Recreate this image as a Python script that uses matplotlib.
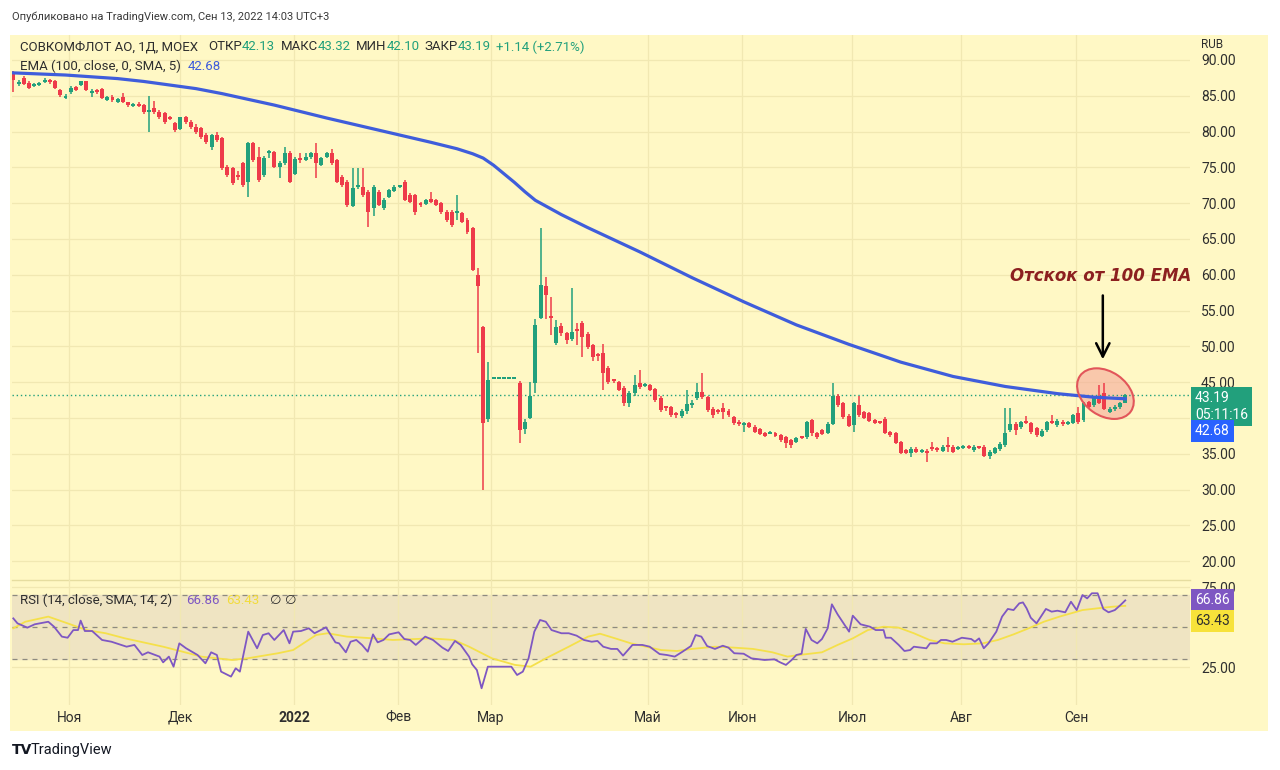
import matplotlib.pyplot as plt
import matplotlib.transforms as mtransforms
from matplotlib.patches import Ellipse, Rectangle
from matplotlib.ticker import FuncFormatter
import numpy as np

plt.rcParams['font.family'] = ['Roboto', 'DejaVu Sans']

# Daily candles, СОВКОМФЛОТ (MOEX), late Oct 2021 .. 13 Sep 2022
opens = [88.3, 86.6, 87.5, 86.8, 86.3, 86.5, 86.9, 87.0, 87.0, 85.8,
         84.7, 85.5, 86.2, 86.5, 87.0, 85.4, 85.7, 86.0, 84.4, 84.9,
         84.1, 84.8, 84.1, 83.6, 83.9, 83.7, 82.8, 83.3, 82.7, 82.6,
         82.1, 81.2, 80.4, 82.0, 81.3, 80.6, 80.5, 79.5, 77.9, 79.5,
         79.1, 75.1, 74.9, 73.8, 75.6, 73.0, 78.4, 76.5, 73.9, 77.0,
         77.2, 75.1, 75.6, 77.0, 74.1, 76.3, 76.1, 76.4, 77.0, 75.4,
         76.4, 77.0, 76.0, 73.7, 73.0, 69.6, 72.2, 72.3, 71.6, 69.3,
         71.6, 69.3, 70.9, 71.7, 72.3, 73.0, 71.2, 71.1, 69.9, 69.9,
         70.6, 70.4, 70.0, 68.8, 68.8, 68.6, 68.6, 67.6, 66.5, 60.0,
         52.7, 39.9, 45.45, 45.45, 45.45, 45.45, 45.45, 44.9, 38.5, 40.0,
         44.9, 54.0, 58.4, 54.2, 50.5, 52.8, 51.8, 51.0, 52.4, 53.3,
         51.7, 50.2, 48.9, 49.1, 47.0, 45.3, 45.0, 44.2, 42.1, 43.5,
         44.9, 44.5, 44.6, 44.0, 42.8, 41.5, 41.5, 40.7, 40.3, 41.0,
         41.8, 42.8, 43.6, 42.9, 41.3, 41.0, 41.4, 41.0, 40.1, 39.5,
         39.0, 39.3, 38.8, 38.4, 37.9, 37.8, 37.9, 37.6, 37.3, 36.9,
         36.7, 37.4, 37.3, 39.7, 37.9, 38.3, 37.9, 39.2, 43.1, 42.1,
         40.3, 39.0, 41.8, 40.8, 40.7, 39.7, 39.4, 39.9, 38.0, 37.9,
         36.6, 35.5, 35.1, 35.7, 35.3, 35.4, 35.8, 35.8, 35.4, 36.1,
         36.0, 35.7, 35.8, 36.0, 35.5, 36.0, 36.0, 34.7, 35.1, 35.6,
         36.2, 38.3, 39.2, 38.7, 39.5, 39.3, 38.6, 37.5, 38.3, 39.5,
         39.0, 39.5, 39.2, 39.3, 40.7, 39.7, 42.2, 41.8, 42.9, 43.5,
         40.9, 41.2, 41.5, 42.13]
highs = [88.5, 87.2, 87.7, 87.0, 86.8, 86.9, 87.5, 87.3, 87.2, 86.0,
         85.3, 86.3, 86.4, 87.1, 87.1, 86.0, 86.0, 86.1, 85.0, 85.1,
         84.7, 85.4, 84.2, 84.0, 84.2, 83.9, 85.0, 84.3, 83.0, 82.8,
         82.2, 81.4, 82.1, 82.2, 81.6, 81.0, 80.7, 79.8, 79.7, 80.0,
         79.3, 75.3, 75.0, 74.5, 75.8, 78.6, 78.6, 77.9, 76.6, 77.4,
         77.3, 75.9, 77.9, 77.3, 76.4, 77.0, 77.0, 77.1, 78.4, 76.5,
         77.2, 77.5, 76.2, 73.9, 73.2, 74.9, 74.9, 74.9, 71.8, 72.6,
         71.8, 70.7, 72.0, 72.5, 72.6, 73.3, 71.4, 71.3, 70.2, 70.6,
         71.5, 70.6, 70.2, 69.0, 69.1, 71.1, 68.8, 68.0, 66.7, 61.0,
         52.9, 47.8, 45.45, 45.45, 45.45, 45.45, 45.45, 45.2, 39.9, 45.0,
         53.8, 66.5, 59.7, 56.9, 53.7, 53.3, 52.0, 58.2, 53.3, 53.6,
         52.0, 50.4, 49.1, 50.3, 47.2, 45.5, 45.2, 44.4, 43.8, 46.0,
         46.7, 44.9, 44.8, 44.2, 43.0, 41.7, 41.7, 40.9, 41.2, 43.9,
         42.5, 44.9, 46.3, 43.1, 41.5, 41.2, 42.1, 41.2, 40.3, 39.7,
         39.4, 39.5, 39.0, 38.6, 38.1, 38.2, 38.1, 37.8, 37.5, 37.0,
         37.4, 37.5, 39.6, 39.9, 38.1, 38.5, 39.4, 44.9, 43.3, 42.3,
         40.5, 42.3, 43.1, 41.0, 40.9, 39.9, 39.6, 40.1, 38.2, 38.1,
         36.8, 35.7, 35.9, 35.9, 35.7, 35.6, 36.6, 36.0, 36.2, 37.4,
         36.2, 36.1, 36.2, 36.2, 36.2, 36.1, 36.2, 35.5, 36.0, 36.6,
         41.4, 41.4, 39.4, 39.6, 40.3, 39.5, 38.8, 38.4, 39.6, 40.4,
         39.8, 39.7, 39.6, 40.6, 41.5, 42.3, 42.4, 43.0, 44.6, 44.9,
         41.5, 41.8, 42.3, 43.32]
lows = [85.5, 86.4, 86.5, 85.9, 86.2, 86.4, 86.8, 86.7, 85.9, 84.9,
        84.5, 85.3, 85.6, 86.4, 85.6, 84.9, 85.2, 84.6, 84.3, 84.2,
        84.0, 84.0, 83.5, 83.4, 83.4, 82.5, 79.9, 82.5, 81.8, 81.1,
        81.6, 80.0, 80.2, 81.0, 80.4, 79.7, 79.0, 78.2, 77.4, 78.6,
        74.7, 73.6, 72.5, 73.2, 72.3, 70.9, 75.8, 73.0, 73.7, 76.3,
        74.9, 73.5, 75.4, 72.8, 73.9, 75.6, 75.9, 76.2, 73.5, 75.2,
        76.3, 75.4, 72.8, 72.3, 69.5, 69.4, 72.0, 70.9, 66.7, 68.2,
        69.6, 69.1, 70.7, 71.5, 72.1, 70.3, 70.0, 68.4, 69.4, 69.7,
        70.0, 69.6, 68.5, 67.4, 66.7, 67.6, 67.2, 65.7, 60.5, 49.1,
        30.0, 39.5, 45.45, 45.45, 45.45, 45.45, 45.45, 36.5, 37.8, 39.8,
        43.5, 53.8, 53.8, 51.6, 50.2, 51.5, 50.4, 50.7, 50.2, 48.5,
        49.7, 48.0, 48.0, 43.9, 44.8, 44.9, 43.7, 41.7, 41.6, 43.1,
        44.0, 44.3, 43.7, 42.3, 40.9, 41.0, 40.2, 40.0, 40.0, 40.6,
        41.4, 42.5, 42.7, 40.9, 40.0, 40.5, 39.8, 40.2, 39.0, 38.9,
        38.1, 38.6, 37.9, 37.6, 37.3, 37.7, 37.3, 36.7, 35.8, 35.8,
        36.5, 37.0, 37.1, 37.5, 37.1, 37.6, 37.7, 39.0, 41.5, 39.9,
        38.7, 38.0, 40.2, 39.8, 39.4, 39.1, 39.1, 37.7, 37.4, 36.3,
        34.9, 34.9, 34.6, 35.1, 35.1, 33.9, 35.4, 35.3, 35.2, 35.3,
        35.1, 35.5, 35.6, 35.6, 35.3, 35.6, 34.5, 34.3, 34.9, 35.4,
        36.0, 38.1, 37.6, 38.5, 39.1, 37.8, 37.4, 37.3, 38.1, 39.1,
        38.8, 38.9, 39.0, 39.1, 39.2, 39.5, 41.3, 41.6, 41.9, 41.1,
        40.7, 41.0, 41.3, 42.10]
closes = [87.2, 86.9, 86.7, 86.1, 86.6, 86.8, 87.1, 86.9, 86.1, 85.1,
          84.9, 86.1, 85.8, 87.0, 85.8, 85.6, 85.5, 84.7, 84.8, 84.4,
          84.6, 84.1, 83.7, 83.8, 83.6, 82.7, 82.9, 82.7, 82.0, 81.3,
          81.8, 80.2, 82.0, 81.3, 80.6, 79.9, 79.2, 78.5, 79.5, 78.8,
          74.9, 73.9, 72.8, 73.6, 72.5, 78.4, 76.0, 73.2, 76.3, 77.2,
          75.1, 75.6, 77.0, 73.0, 76.2, 76.1, 76.5, 77.0, 75.6, 76.3,
          77.0, 75.6, 73.0, 72.5, 69.8, 72.1, 72.3, 71.1, 68.8, 72.3,
          69.8, 70.5, 71.8, 72.3, 72.5, 70.5, 70.2, 68.8, 69.7, 70.4,
          70.2, 69.8, 68.8, 67.7, 67.0, 68.7, 67.4, 66.0, 60.7, 58.4,
          39.3, 45.3, 45.45, 45.45, 45.45, 45.45, 45.45, 38.3, 39.4, 43.1,
          53.0, 58.6, 57.2, 54.0, 52.7, 51.8, 50.9, 52.0, 52.1, 51.3,
          49.9, 48.5, 48.6, 46.3, 45.0, 45.1, 43.9, 42.1, 43.5, 44.6,
          44.3, 44.7, 43.9, 42.5, 41.1, 41.4, 40.4, 40.4, 41.0, 42.0,
          42.1, 43.6, 42.9, 41.1, 40.4, 40.8, 40.9, 40.4, 39.3, 39.1,
          39.2, 38.8, 38.1, 37.8, 37.5, 37.9, 37.5, 36.9, 36.5, 36.2,
          37.2, 37.2, 39.4, 37.9, 37.3, 37.8, 39.2, 43.1, 41.8, 40.1,
          38.9, 42.1, 40.4, 40.0, 39.6, 39.3, 39.3, 37.9, 37.6, 36.5,
          35.1, 35.1, 35.7, 35.3, 35.5, 35.1, 35.6, 35.5, 36.0, 35.9,
          35.3, 35.9, 36.0, 35.8, 36.0, 35.8, 34.7, 35.3, 35.8, 36.4,
          37.9, 39.2, 38.3, 39.4, 39.3, 38.0, 37.6, 38.2, 39.4, 39.3,
          39.6, 39.1, 39.4, 40.4, 39.4, 42.1, 41.5, 42.8, 42.1, 41.3,
          41.3, 41.6, 42.1, 43.19]

# EMA(100) read at bar positions
ema_idx = [0, 10, 20, 25, 30, 35, 40, 45, 50, 60, 70, 80, 85, 88, 90, 92, 94, 96, 98, 100,
           105, 110, 115, 120, 130, 140, 150, 160, 170, 180, 190, 200, 207, 213]
ema_vals = [88.2, 87.9, 87.4, 87.0, 86.5, 86.0, 85.3, 84.5, 83.7, 81.9, 80.2, 78.5, 77.6,
            76.9, 76.3, 75.3, 74.1, 72.9, 71.6, 70.4, 68.4, 66.6, 64.9, 63.2, 59.6, 56.2,
            53.0, 50.3, 47.8, 45.8, 44.4, 43.4, 42.9, 42.68]

# RSI(14) and its SMA(14)
rsi_idx = [0, 0.8, 2.7, 4.1, 6.7, 7.8, 9.3, 10.4, 11.5, 12.4, 12.9, 13.7, 15.1, 17.0, 18.8,
           20.3, 21.7, 23.2, 24.7, 25.8, 28.0, 28.7, 29.8, 30.7, 31.8, 33.1, 35.3, 36.8, 37.9,
           39.0, 39.8, 41.7, 42.6, 43.4, 45.0, 46.7, 47.8, 48.9, 50.0, 51.8, 52.9, 53.6, 55.1,
           56.6, 57.7, 59.9, 61.7, 62.4, 63.7, 64.6, 65.7, 66.8, 67.9, 68.9, 69.8, 70.9, 72.0,
           73.8, 74.9, 76.0, 77.1, 78.9, 80.4, 82.2, 83.3, 84.6, 85.7, 87.3, 87.9, 88.8, 89.7,
           90.9, 95.4, 96.5, 97.6, 98.7, 99.8, 100.9, 102.0, 103.1, 105.0, 106.4, 107.9, 109.3,
           110.8, 111.9, 113.0, 114.5, 115.7, 116.8, 118.6, 120.5, 121.9, 123.8, 125.2, 126.7,
           128.2, 129.8, 130.7, 131.8, 132.9, 134.4, 135.9, 137.0, 138.1, 139.9, 141.4, 143.9,
           145.8, 146.9, 148.0, 149.1, 150.0, 151.0, 151.8, 152.9, 154.0, 154.9, 156.0, 156.8,
           157.9, 160.1, 160.8, 162.3, 164.1, 165.2, 166.7, 167.1, 168.1, 169.6, 170.7, 171.8,
           172.5, 174.0, 174.9, 175.6, 176.9, 177.7, 178.7, 179.9, 181.7, 183.5, 184.2, 185.0,
           185.9, 186.8, 188.3, 189.4, 190.5, 191.6, 192.7, 193.4, 194.1, 194.9, 196.0, 197.8,
           198.9, 200.0, 201.5, 202.6, 203.7, 204.8, 205.7, 206.6, 207.7, 208.8, 209.8, 211.0,
           212.1, 213.0]
rsi_vals = [55.6, 52.5, 49.8, 51.9, 53.5, 50.4, 44.2, 43.5, 48.3, 48.3, 54.2, 47.7, 47.7, 42.1,
            41.0, 39.4, 37.9, 39.0, 32.7, 34.4, 31.7, 28.1, 31.7, 25.4, 40.0, 36.9, 32.7, 27.5,
            34.4, 32.7, 22.3, 19.2, 24.4, 22.3, 47.3, 36.9, 45.2, 46.3, 42.1, 48.3, 40.0, 47.3,
            47.7, 49.4, 46.3, 50.0, 40.6, 40.0, 34.4, 41.0, 42.1, 39.0, 34.8, 45.6, 40.6, 42.1,
            45.6, 46.9, 42.7, 42.1, 39.0, 44.2, 42.1, 37.3, 35.2, 41.5, 39.0, 31.7, 26.9, 23.3,
            11.9, 25.4, 25.4, 20.2, 22.3, 30.6, 47.3, 54.6, 53.5, 48.3, 46.3, 46.3, 44.8, 42.1,
            41.0, 41.5, 37.9, 36.5, 36.5, 32.3, 39.0, 39.0, 37.9, 33.3, 32.7, 31.7, 34.8, 38.3,
            45.2, 44.2, 38.3, 36.5, 38.5, 37.3, 33.8, 33.5, 30.6, 29.6, 30.0, 28.1, 26.5, 29.6,
            32.7, 33.5, 49.0, 42.1, 40.0, 42.7, 49.4, 64.4, 58.1, 47.3, 57.3, 51.9, 50.4, 48.3,
            48.3, 43.5, 43.5, 39.0, 35.2, 35.8, 37.9, 37.3, 36.9, 40.0, 40.0, 42.1, 42.1, 41.0,
            43.5, 42.7, 41.0, 43.1, 36.9, 40.0, 47.3, 56.7, 61.5, 60.8, 65.0, 65.6, 61.9, 56.0,
            52.5, 61.5, 59.8, 60.4, 59.4, 66.0, 60.8, 70.2, 68.1, 71.3, 71.3, 61.5, 59.4, 60.8,
            64.0, 66.86]
sig_idx = [0, 2.3, 6.7, 10.4, 14.0, 17.7, 21.4, 28.7, 32.4, 36.0, 41.9, 44.8, 50.7, 53.6, 58.0,
           60.2, 63.9, 69.0, 72.7, 80.0, 84.4, 87.3, 91.7, 96.1, 99.1, 102.0, 106.4, 110.1,
           112.4, 115.3, 118.3, 121.2, 124.1, 127.1, 130.0, 134.4, 138.1, 141.7, 145.4, 148.3,
           150.5, 154.9, 157.9, 160.8, 163.7, 166.7, 169.6, 172.5, 175.5, 178.4, 182.1, 185.7,
           188.6, 191.6, 194.5, 197.4, 200.4, 204.8, 207.7, 210.6, 213.0]
sig_vals = [49.4, 53.5, 56.7, 52.5, 48.3, 46.3, 43.1, 37.9, 34.8, 31.7, 29.6, 30.6, 33.8, 35.8,
            45.2, 46.3, 44.2, 43.1, 42.1, 43.1, 42.1, 37.9, 30.6, 26.5, 25.4, 30.6, 37.9, 44.2,
            46.0, 43.1, 40.0, 37.9, 35.8, 35.2, 36.5, 37.9, 37.3, 36.5, 34.4, 31.7, 32.7, 34.4,
            39.0, 43.1, 48.3, 50.4, 49.8, 46.3, 42.1, 40.0, 39.4, 40.0, 42.1, 45.6, 49.4, 53.5,
            56.7, 60.8, 61.9, 62.9, 63.43]

month_pos = [10.7, 31.9, 53.8, 73.7, 91.5, 121.6, 139.6, 160.7, 181.6, 203.6]
month_lbl = ['Ноя', 'Дек', '2022', 'Фев', 'Мар', 'Май', 'Июн', 'Июл', 'Авг', 'Сен']

BG = '#fff8c5'
GREEN = '#22a07c'
RED = '#ee3b4a'
BLUE = '#3f5ddb'
PURPLE = '#7e57c2'
YELLOW = '#f5e04a'
DARK = '#2e2e2e'
GRID = '#f1e8b2'

W, H = 1280, 770
fig = plt.figure(figsize=(W / 100, H / 100), dpi=100)
fig.patch.set_facecolor('white')
fig.patches.append(Rectangle((10 / W, 39 / H), 1258 / W, 696 / H, transform=fig.transFigure,
                             fc=BG, ec='none', zorder=-5))

ax = fig.add_axes([12 / W, 190 / H, 1178 / W, 545 / H])
ax2 = fig.add_axes([12 / W, 65 / H, 1178 / W, 125 / H], sharex=ax)
for a in (ax, ax2):
    a.set_facecolor('none')
    for s in a.spines.values():
        s.set_visible(False)
    a.yaxis.tick_right()
    a.set_axisbelow(True)

# hidden labels sit under the price boxes on the right scale
price_fmt = FuncFormatter(lambda v, p: '' if abs(v - 40) < 0.01 else '%.2f' % v)
rsi_fmt = FuncFormatter(lambda v, p: '' if abs(v - 50) < 0.01 else '%.2f' % v)

# --- price pane ---
o, h, l, c = map(np.array, (opens, highs, lows, closes))
x = np.arange(len(c))
cols = np.where(c >= o, GREEN, RED)
ax.vlines(x, l, h, colors=cols, lw=1.1, zorder=3)
ax.bar(x, np.maximum(np.abs(c - o), 0.28), bottom=np.minimum(o, c), width=0.76,
       color=cols, zorder=4)
ax.plot(ema_idx, ema_vals, color=BLUE, lw=2.3, zorder=5, solid_joinstyle='round')
ax.axhline(c[-1], color=GREEN, lw=1, ls=(0, (1, 2)), zorder=2)

ax.set_xlim(-0.25, 225.4)
ax.set_ylim(17.37, 93.49)
ax.set_yticks(np.arange(20, 95, 5))
ax.yaxis.set_major_formatter(price_fmt)
ax.tick_params(axis='y', length=0, pad=8, labelsize=10, labelcolor=DARK)
ax.tick_params(axis='x', bottom=False, labelbottom=False)
ax.set_xticks(month_pos)
ax.grid(True, color=GRID, lw=0.9)
ax.axhline(17.37, color='#e6dda0', lw=1, clip_on=False)

# annotation
ax.text(208.3, 59.8, 'Отскок от 100 EMA', ha='center', va='center', color='#8c2020',
        fontsize=12, fontweight='bold', fontstyle='italic', family='DejaVu Sans', zorder=8)
ax.annotate('', xy=(208.7, 47.8), xytext=(208.7, 57.5),
            arrowprops=dict(arrowstyle='->', color='black', lw=1.8, mutation_scale=24), zorder=8)
cx, cy = ax.transData.transform((209.2, 43.4))
ell = Ellipse((cx, cy), 62, 44, angle=-35, transform=mtransforms.IdentityTransform(),
              fc='#f6a99a', alpha=0.6, ec='none', zorder=1.5)
ax.add_artist(ell)
ell2 = Ellipse((cx, cy), 62, 44, angle=-35, transform=mtransforms.IdentityTransform(),
               fc='none', ec='#e2565a', lw=1.5, zorder=6)
ax.add_artist(ell2)

tr = mtransforms.blended_transform_factory(ax.transAxes, ax.transData)
ax.annotate('43.19\n05:11:16', xy=(1, c[-1]), xycoords=tr, xytext=(5, 4),
            textcoords='offset pixels', ha='left', va='top', color='white', fontsize=10,
            linespacing=1.25, bbox=dict(boxstyle='square,pad=0.3', fc=GREEN, ec='none'),
            annotation_clip=False, zorder=10)
ax.annotate('42.68', xy=(1, ema_vals[-1]), xycoords=tr, xytext=(5, -32),
            textcoords='offset pixels', ha='left', va='center', color='white', fontsize=10,
            bbox=dict(boxstyle='square,pad=0.3', fc='#2962ff', ec='none'),
            annotation_clip=False, zorder=10)

# --- RSI pane ---
ax2.axhspan(30, 70, color='#efe4c2', zorder=0.5)
for lvl in (70, 50, 30):
    ax2.axhline(lvl, color='#8d8a80', lw=0.9, ls=(0, (4, 4)), zorder=1)
ax2.plot(sig_idx, sig_vals, color=YELLOW, lw=1.3, zorder=3)
ax2.plot(rsi_idx, rsi_vals, color=PURPLE, lw=1.3, zorder=4)
ax2.set_ylim(1.44, 79.6)
ax2.set_yticks([25, 50, 75])
ax2.yaxis.set_major_formatter(rsi_fmt)
ax2.tick_params(axis='y', length=0, pad=8, labelsize=10, labelcolor=DARK)
ax2.set_xticks(month_pos)
ax2.set_xticklabels(month_lbl)
ax2.tick_params(axis='x', length=0, pad=4, labelsize=10, labelcolor=DARK)
for t in ax2.get_xticklabels():
    if t.get_text() == '2022':
        t.set_fontweight('bold')
ax2.grid(True, color=GRID, lw=0.9)

tr2 = mtransforms.blended_transform_factory(ax2.transAxes, ax2.transData)
ax2.annotate('66.86', xy=(1, 66.86), xycoords=tr2, xytext=(5, 0), textcoords='offset pixels',
             ha='left', va='center', color='white', fontsize=10,
             bbox=dict(boxstyle='square,pad=0.3', fc=PURPLE, ec='none'),
             annotation_clip=False, zorder=10)
ax2.annotate('63.43', xy=(1, 63.43), xycoords=tr2, xytext=(5, -15), textcoords='offset pixels',
             ha='left', va='center', color=DARK, fontsize=10,
             bbox=dict(boxstyle='square,pad=0.3', fc='#f7e23a', ec='none'),
             annotation_clip=False, zorder=10)

# --- texts in pixel coordinates ---
renderer = fig.canvas.get_renderer()
ident = mtransforms.IdentityTransform()


def put(xp, ytop, parts, size=9.5, **kw):
    for s, col in parts:
        t = fig.text(xp, H - ytop, s, color=col, fontsize=size, transform=ident,
                     ha='left', va='center', **kw)
        xp = t.get_window_extent(renderer).x1


put(12, 17, [('Опубликовано на TradingView.com, Сен 13, 2022 14:03 UTC+3', '#3a3a3a')], size=8)
put(20, 47, [('СОВКОМФЛОТ АО, 1Д, МОЕХ', DARK)])
put(208, 47, [('ОТКР', DARK), ('42.13', GREEN)])
put(281, 47, [('МАКС', DARK), ('43.32', GREEN)])
put(356, 47, [('МИН', DARK), ('42.10', GREEN)])
put(424, 47, [('ЗАКР', DARK), ('43.19', GREEN)])
put(496, 47, [('+1.14 (+2.71%)', GREEN)])
put(20, 66, [('EMA (100, close, 0, SMA, 5)', DARK)])
put(188, 66, [('42.68', BLUE)])
put(20, 600, [('RSI (14, close, SMA, 14, 2)', DARK)])
put(186, 600, [('66.86', PURPLE)])
put(226, 600, [('63.43', '#f2dc3c')])
put(270, 600, [('∅', DARK)])
put(285, 600, [('∅', DARK)])
put(1201, 45, [('RUB', DARK)], size=8.5)
put(12, 750, [('TV', '#131722')], size=10, fontweight='bold', family='DejaVu Sans')
put(31, 750, [('TradingView', '#131722')], size=10.5)

fig.savefig('out.png', dpi=100, facecolor='white')
